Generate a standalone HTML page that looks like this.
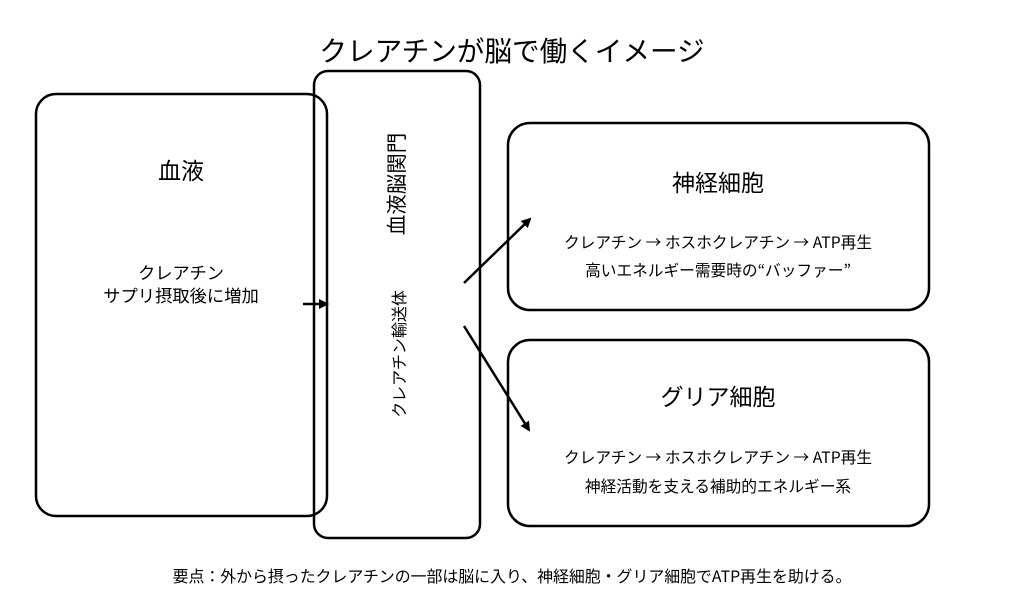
<!DOCTYPE html>
<html><head><meta charset="utf-8"><style>
body{margin:0;background:#fff;}
svg text{font-family:"Noto Sans CJK JP",sans-serif;fill:#000;}
</style></head><body>
<svg width="1024" height="610" viewBox="0 0 1024 610" xmlns="http://www.w3.org/2000/svg">
<defs><marker id="a" markerWidth="10" markerHeight="10" refX="8" refY="5" orient="auto" markerUnits="userSpaceOnUse"><path d="M0,0 L10,5 L0,10 z" fill="#000"/></marker></defs>
<text x="512" y="61" font-size="27.6" text-anchor="middle">クレアチンが脳で働くイメージ</text>
<rect x="36" y="94" width="291" height="422" rx="20" fill="none" stroke="#000" stroke-width="2.5"/>
<rect x="314" y="71" width="166" height="467" rx="14" fill="none" stroke="#000" stroke-width="2.5"/>
<rect x="508" y="123" width="421" height="187" rx="22" fill="none" stroke="#000" stroke-width="2.5"/>
<rect x="508" y="340" width="421" height="186" rx="22" fill="none" stroke="#000" stroke-width="2.5"/>
<text x="181" y="179" font-size="23" text-anchor="middle">血液</text>
<text x="181" y="279" font-size="17.3" text-anchor="middle">クレアチン</text>
<text x="181" y="302" font-size="17.3" text-anchor="middle">サプリ摂取後に増加</text>
<text transform="translate(404,184) rotate(-90)" font-size="20.5" text-anchor="middle">血液脳関門</text>
<text transform="translate(405,354) rotate(-90)" font-size="16" text-anchor="middle">クレアチン輸送体</text>
<text x="718" y="191" font-size="23" text-anchor="middle">神経細胞</text>
<text x="718" y="248" font-size="15.7" text-anchor="middle">クレアチン → ホスホクレアチン → ATP再生</text>
<text x="718" y="276" font-size="15.7" text-anchor="middle">高いエネルギー需要時の“バッファー”</text>
<text x="718" y="405" font-size="23" text-anchor="middle">グリア細胞</text>
<text x="718" y="463" font-size="15.7" text-anchor="middle">クレアチン → ホスホクレアチン → ATP再生</text>
<text x="718" y="492" font-size="15.7" text-anchor="middle">神経活動を支える補助的エネルギー系</text>
<line x1="303" y1="304" x2="327" y2="304" stroke="#000" stroke-width="2.5" marker-end="url(#a)"/>
<line x1="464" y1="283" x2="530" y2="219" stroke="#000" stroke-width="2.5" marker-end="url(#a)"/>
<line x1="464" y1="326" x2="529" y2="430" stroke="#000" stroke-width="2.5" marker-end="url(#a)"/>
<text x="512" y="582" font-size="15.9" text-anchor="middle">要点：外から摂ったクレアチンの一部は脳に入り、神経細胞・グリア細胞でATP再生を助ける。</text>
</svg>
</body></html>
